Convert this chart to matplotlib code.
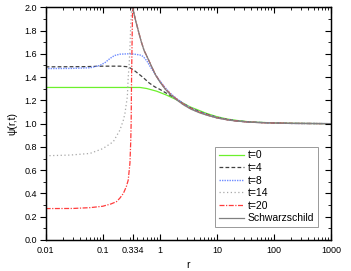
import matplotlib
matplotlib.use("Agg")
import matplotlib.pyplot as plt
from matplotlib.ticker import FixedLocator, FixedFormatter, LogLocator, MultipleLocator, NullFormatter

plt.rcParams["font.family"] = ["Liberation Sans", "DejaVu Sans"]

# values (r, psi)
r_s = [0.334, 0.36, 0.38, 0.42, 0.47, 0.53, 0.6, 0.72, 0.85, 1.0, 1.23, 1.5, 1.97,
       2.6, 3.5, 5.0, 7.0, 10, 15, 22, 35, 50, 110, 200, 500, 1000]
psi_s = [2.0, 1.93, 1.88, 1.80, 1.71, 1.63, 1.575, 1.49, 1.415, 1.36, 1.30, 1.255, 1.205,
         1.162, 1.125, 1.093, 1.07, 1.049, 1.033, 1.022, 1.014, 1.01, 1.005, 1.002, 1.001, 1.0]

r_20 = [0.01, 0.03, 0.06, 0.1, 0.14, 0.175, 0.2, 0.23, 0.26, 0.28, 0.30, 0.31, 0.315,
        0.32, 0.327, 0.334, 0.36, 0.38, 0.42, 0.47, 0.53, 0.6, 0.72, 0.85, 1.0, 1.23,
        1.5, 1.97, 2.6, 3.5, 5.0, 7.0, 10, 15, 22, 35, 50, 110, 200, 500, 1000]
psi_20 = [0.27, 0.271, 0.278, 0.29, 0.31, 0.33, 0.36, 0.40, 0.46, 0.515, 0.66, 0.85, 1.0,
          1.37, 1.7, 2.0, 1.93, 1.88, 1.80, 1.71, 1.63, 1.575, 1.49, 1.417, 1.363, 1.305,
          1.26, 1.21, 1.167, 1.13, 1.097, 1.073, 1.051, 1.034, 1.023, 1.014, 1.01, 1.005,
          1.002, 1.001, 1.0]

r_14 = [0.01, 0.027, 0.06, 0.1, 0.153, 0.2, 0.23, 0.245, 0.27, 0.28, 0.29, 0.30, 0.31,
        0.322, 0.36, 0.38, 0.42, 0.47, 0.53, 0.6, 0.72, 0.85, 1.0, 1.23, 1.5, 1.97,
        2.6, 3.5, 5.0, 7.0, 10, 15, 22, 35, 50, 110, 200, 500, 1000]
psi_14 = [0.724, 0.73, 0.744, 0.785, 0.844, 0.944, 1.03, 1.087, 1.23, 1.40, 1.50, 1.65,
          1.85, 2.0, 1.93, 1.88, 1.80, 1.71, 1.63, 1.575, 1.49, 1.415, 1.36, 1.30, 1.256,
          1.206, 1.163, 1.126, 1.094, 1.07, 1.049, 1.033, 1.022, 1.014, 1.01, 1.005,
          1.002, 1.001, 1.0]

r_8 = [0.01, 0.03, 0.06, 0.089, 0.11, 0.134, 0.16, 0.2, 0.28, 0.35, 0.45, 0.5, 0.55,
       0.6, 0.68, 0.77, 0.9, 1.0, 1.23, 1.5, 1.97, 2.6, 3.5, 5.0, 7.0, 10, 15, 22, 35,
       50, 110, 200, 500, 1000]
psi_8 = [1.473, 1.475, 1.48, 1.50, 1.525, 1.56, 1.585, 1.597, 1.60, 1.598, 1.59, 1.58,
         1.56, 1.535, 1.49, 1.45, 1.40, 1.37, 1.312, 1.265, 1.215, 1.172, 1.134, 1.1,
         1.076, 1.054, 1.036, 1.024, 1.015, 1.011, 1.005, 1.002, 1.001, 1.0]

r_4 = [0.01, 0.05, 0.1, 0.2, 0.26, 0.3, 0.35, 0.42, 0.51, 0.65, 0.82, 1.0, 1.3, 1.6,
       1.97, 2.6, 3.5, 5.0, 7.0, 10, 15, 22, 35, 50, 110, 200, 500, 1000]
psi_4 = [1.488, 1.49, 1.494, 1.494, 1.49, 1.48, 1.46, 1.43, 1.397, 1.35, 1.316, 1.295,
         1.262, 1.237, 1.212, 1.172, 1.135, 1.102, 1.078, 1.055, 1.037, 1.025, 1.015,
         1.011, 1.005, 1.002, 1.001, 1.0]

r_0 = [0.01, 0.1, 0.45, 0.59, 0.88, 1.32, 1.97, 3.4, 6.6, 10, 15, 22, 35, 50, 110,
       200, 500, 1000]
psi_0 = [1.311, 1.311, 1.311, 1.302, 1.279, 1.245, 1.205, 1.144, 1.088, 1.06, 1.04,
         1.028, 1.017, 1.012, 1.006, 1.003, 1.001, 1.0]

x_ticks = [0.01, 0.1, 0.334, 1, 10, 100, 1000]
x_labels = ["0.01", "0.1", "0.334", "1", "10", "100", "1000"]

fig = plt.figure(figsize=(3.51, 2.71), dpi=100)
ax = fig.add_axes([0.130, 0.1144, 0.813, 0.8587])

lw = 0.9
ax.plot(r_0, psi_0, color="#6cf02c", lw=lw, label="t=0")
ax.plot(r_4, psi_4, color="#404040", lw=lw, dashes=(3, 1.8), label="t=4")
ax.plot(r_8, psi_8, color="#6f8cff", lw=1.0, dashes=(1, 0.8), label="t=8")
ax.plot(r_14, psi_14, color="#a8a8a8", lw=lw, dashes=(1, 2.0), label="t=14")
ax.plot(r_20, psi_20, color="#ff3c3c", lw=lw, dashes=(4, 1.2, 1, 1.2), label="t=20")
ax.plot(r_s, psi_s, color="#808080", lw=lw, label="Schwarzschild")

ax.set_xscale("log")
ax.set_xlim(0.01, 1000)
ax.set_ylim(0.0, 2.0)

ax.xaxis.set_major_locator(FixedLocator(x_ticks))
ax.xaxis.set_major_formatter(FixedFormatter(x_labels))
ax.xaxis.set_minor_locator(LogLocator(base=10, subs=range(2, 10), numticks=20))
ax.xaxis.set_minor_formatter(NullFormatter())
ax.yaxis.set_major_locator(MultipleLocator(0.2))
ax.yaxis.set_minor_locator(MultipleLocator(0.1))
ax.yaxis.set_major_formatter(plt.FuncFormatter(lambda v, p: f"{v:.1f}"))

ax.tick_params(axis="x", which="both", direction="in", top=True, labelsize=6.5, pad=4)
ax.tick_params(axis="x", which="major", length=4, width=0.8)
ax.tick_params(axis="x", which="minor", length=2, width=0.6)
ax.tick_params(axis="y", which="both", direction="out", labelsize=6.5, pad=2)
ax.tick_params(axis="y", which="major", length=4, width=0.8)
ax.tick_params(axis="y", which="minor", length=2, width=0.6)

ax2 = ax.twinx()
ax2.set_ylim(0.0, 2.0)
ax2.yaxis.set_major_locator(MultipleLocator(0.2))
ax2.yaxis.set_minor_locator(MultipleLocator(0.1))
ax2.tick_params(axis="y", which="both", direction="in", labelright=False)
ax2.tick_params(axis="y", which="major", length=4, width=0.8)
ax2.tick_params(axis="y", which="minor", length=2, width=0.6)

for sp in ax.spines.values():
    sp.set_linewidth(0.9)
for sp in ax2.spines.values():
    sp.set_linewidth(0.9)

ax.set_xlabel("r", fontsize=7.5, labelpad=4)
ax.set_ylabel("ψ(r,t)", fontsize=7.5, labelpad=5)

leg = ax.legend(loc="lower right", bbox_to_anchor=(0.955, 0.056), fontsize=7.5,
                frameon=True, fancybox=False, edgecolor="#808080", handlelength=2.4,
                handletextpad=0.4, labelspacing=0.25, borderpad=0.35, borderaxespad=0)
leg.get_frame().set_linewidth(0.7)

fig.savefig("out.png", dpi=100)
